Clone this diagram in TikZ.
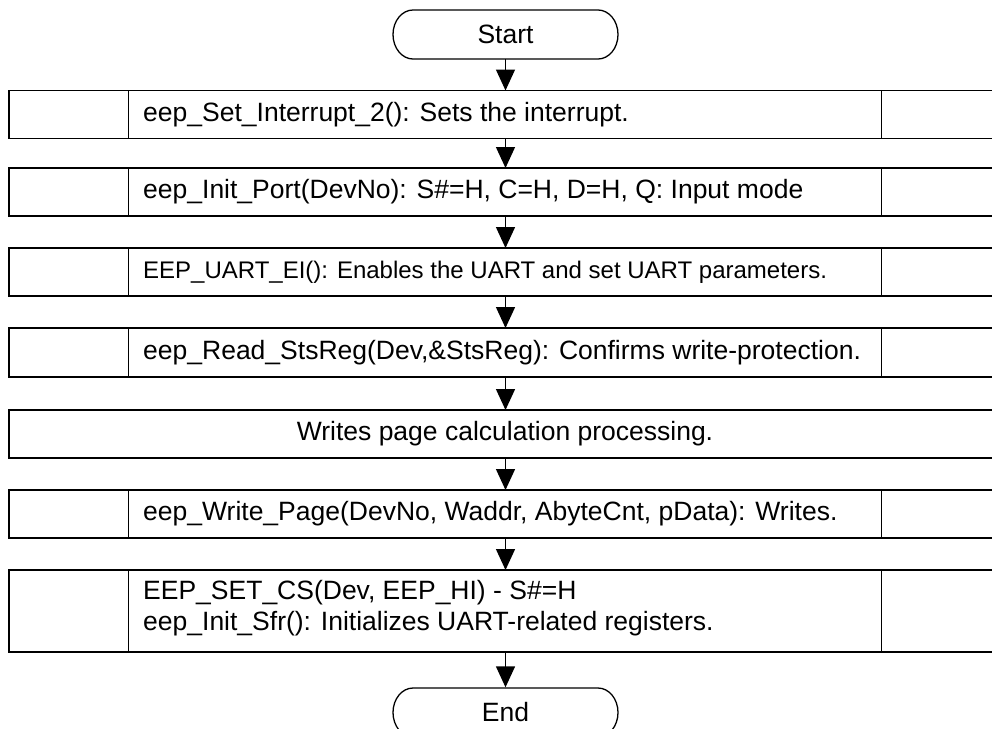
\documentclass[tikz,border=0pt]{standalone}
\usepackage{fontspec}
\setmainfont{Liberation Sans}
\usetikzlibrary{arrows.meta}
\begin{document}
\begin{tikzpicture}[x=1pt,y=-1pt,
  rowbox/.style={draw, line width=1.6pt, minimum width=992pt, inner sep=0pt, outer sep=0pt},
  divline/.style={line width=1.6pt},
  rowtext/.style={anchor=west, inner sep=0pt, font=\fontsize{26.5}{31}\selectfont},
  smalltext/.style={anchor=west, inner sep=0pt, font=\fontsize{24}{28}\selectfont},
  termtext/.style={inner sep=0pt, minimum width=225pt, minimum height=49pt, font=\fontsize{26.5}{31}\selectfont},
  termline/.style={line width=1.3pt},
  arr/.style={-{Triangle[length=21pt,width=19pt]}, line width=1.4pt}]
\useasboundingbox (0,0) rectangle (992,728);

% Start terminal
\node[termtext] (start) at (505.5,34.5) {Start};
\draw[termline] (413,10) -- (598,10) arc[start angle=-90,end angle=90,x radius=20,y radius=24.5]
  -- (413,59) arc[start angle=90,end angle=270,x radius=20,y radius=24.5] -- cycle;

% rows
\node[rowbox, minimum height=48pt] (b1) at (505,114.5) {};
\node[rowbox, minimum height=48pt] (b2) at (505,192) {};
\node[rowbox, minimum height=48pt] (b3) at (505,272) {};
\node[rowbox, minimum height=49pt] (b4) at (505,352.5) {};
\node[rowbox, minimum height=48pt] (b5) at (505,434) {};
\node[rowbox, minimum height=48pt] (b6) at (505,514) {};
\node[rowbox, minimum height=82pt] (b7) at (505,611) {};

\foreach \b in {b1,b2,b3,b4,b6,b7}{
  \draw[divline] (\b.north -| 128.6,0) -- (\b.south -| 128.6,0);
  \draw[divline] (\b.north -| 881.5,0) -- (\b.south -| 881.5,0);
}

\node[rowtext] (t1) at (143,114.5) {eep\_Set\_Interrupt\_2(): Sets the interrupt.};
\node[rowtext] (t2) at (143,192) {eep\_Init\_Port(DevNo): S\#=H, C=H, D=H, Q: Input mode};
\node[smalltext] (t3) at (143,272) {EEP\_UART\_EI(): Enables the UART and set UART parameters.};
\node[rowtext] (t4) at (143,352.5) {eep\_Read\_StsReg(Dev,\&StsReg): Confirms write-protection.};
\node[rowtext, anchor=center] (t5) at (505,434) {Writes page calculation processing.};
\node[rowtext] (t6) at (143,514) {eep\_Write\_Page(DevNo, Waddr, AbyteCnt, pData): Writes.};
\node[rowtext, align=left] (t7) at (143,608.6) {EEP\_SET\_CS(Dev, EEP\_HI) - S\#=H\\eep\_Init\_Sfr(): Initializes UART-related registers.};

% End terminal
\node[termtext] (end) at (505.5,712) {End};
\draw[termline] (413,688) -- (598,688) arc[start angle=-90,end angle=90,x radius=20,y radius=24.5]
  -- (413,737) arc[start angle=90,end angle=270,x radius=20,y radius=24.5] -- cycle;

% arrows
\draw[arr] (start.south) -- (start.south |- b1.north);
\draw[arr] (b1.south -| start.south) -- (start.south |- b2.north);
\draw[arr] (b2.south -| start.south) -- (start.south |- b3.north);
\draw[arr] (b3.south -| start.south) -- (start.south |- b4.north);
\draw[arr] (b4.south -| start.south) -- (start.south |- b5.north);
\draw[arr] (b5.south -| start.south) -- (start.south |- b6.north);
\draw[arr] (b6.south -| start.south) -- (start.south |- b7.north);
\draw[arr] (b7.south -| start.south) -- (end.north);
\end{tikzpicture}
\end{document}
